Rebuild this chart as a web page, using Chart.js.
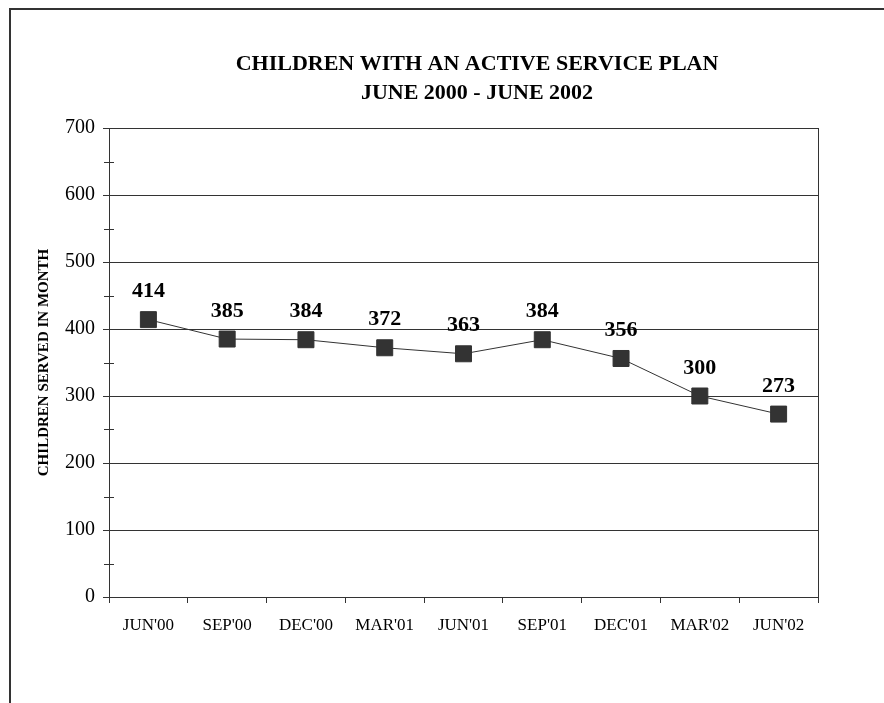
<!DOCTYPE html>
<html>
<head>
<meta charset="utf-8">
<script src="https://cdn.jsdelivr.net/npm/chart.js@4/dist/chart.umd.min.js"></script>
<style>
  html, body { margin: 0; padding: 0; background: #fff; }
  #wrap { position: relative; width: 884px; height: 703px; }
  #frame { position: absolute; left: 9px; top: 8px; width: 880px; height: 700px;
           border-left: 2px solid #333; border-top: 2px solid #333; box-sizing: border-box; }
  canvas { position: absolute; left: 0; top: 0; }
</style>
</head>
<body>
<div id="wrap">
  <div id="frame"></div>
  <canvas id="c" width="884" height="703"></canvas>
</div>
<script>
const categories = ["JUN'00", "SEP'00", "DEC'00", "MAR'01", "JUN'01", "SEP'01", "DEC'01", "MAR'02", "JUN'02"];
const childrenServed = [414, 385, 384, 372, 363, 384, 356, 300, 273];
const titleLines = ["CHILDREN WITH AN ACTIVE SERVICE PLAN", "JUNE 2000 - JUNE 2002"];
const yAxisTitle = "CHILDREN SERVED IN MONTH";
const yMin = 0, yMax = 700, yStep = 100;

const SERIF = "'Liberation Serif', 'Times New Roman', serif";
const DARK = '#333333';

const extras = {
  id: 'extras',
  afterDraw(chart) {
    const ctx = chart.ctx;
    ctx.save();
    ctx.fillStyle = '#000';
    ctx.font = "bold 22px " + SERIF;
    ctx.textAlign = 'center';
    ctx.textBaseline = 'middle';
    const cx = 477;
    titleLines.forEach((t, i) => ctx.fillText(t, cx, 64 + i * 29));
    ctx.restore();
  },
  afterDatasetsDraw(chart) {
    const ctx = chart.ctx;
    const area = chart.chartArea;
    const ys = chart.scales.y;
    ctx.save();
    // right border of plot area
    ctx.strokeStyle = DARK;
    ctx.lineWidth = 1;
    ctx.beginPath();
    ctx.moveTo(Math.round(area.right) + 0.5, area.top);
    ctx.lineTo(Math.round(area.right) + 0.5, area.bottom);
    ctx.stroke();
    // minor ticks on y axis
    for (let v = yMin + yStep / 2; v < yMax; v += yStep) {
      const py = Math.round(ys.getPixelForValue(v)) + 0.5;
      ctx.beginPath();
      ctx.moveTo(area.left - 5, py);
      ctx.lineTo(area.left + 5, py);
      ctx.stroke();
    }
    // data labels
    const meta = chart.getDatasetMeta(0);
    ctx.fillStyle = '#000';
    ctx.font = "bold 22px " + SERIF;
    ctx.textAlign = 'center';
    ctx.textBaseline = 'middle';
    meta.data.forEach((pt, i) => {
      ctx.fillText(String(childrenServed[i]), pt.x, pt.y - 28);
    });
    ctx.restore();
  }
};

new Chart(document.getElementById('c'), {
  type: 'line',
  data: {
    labels: categories,
    datasets: [{
      data: childrenServed,
      borderColor: DARK,
      borderWidth: 1,
      pointStyle: 'rect',
      pointRadius: 11.3,
      pointHoverRadius: 11.3,
      pointBackgroundColor: DARK,
      pointBorderColor: DARK,
      pointBorderWidth: 1,
      tension: 0
    }]
  },
  options: {
    responsive: false,
    animation: false,
    events: [],
    layout: { padding: { left: 0, right: 66, top: 128, bottom: 0 } },
    plugins: {
      legend: { display: false },
      tooltip: { enabled: false },
      title: { display: false }
    },
    scales: {
      x: {
        type: 'category',
        offset: true,
        grid: { display: true, offset: true, drawOnChartArea: false, drawTicks: true, tickLength: 6, color: DARK },
        border: { display: true, color: DARK, width: 1 },
        ticks: { color: '#000', font: { family: SERIF, size: 17 }, padding: 12, maxRotation: 0, autoSkip: false },
        afterFit(scale) { scale.height = 106; }
      },
      y: {
        min: yMin, max: yMax,
        ticks: { stepSize: yStep, color: '#000', font: { family: SERIF, size: 20 }, padding: 8 },
        grid: { color: DARK, lineWidth: 1, tickLength: 6, drawTicks: true },
        border: { display: true, color: DARK, width: 1 },
        title: {
          display: true,
          text: yAxisTitle,
          color: '#000',
          font: { family: SERIF, size: 15, weight: 'bold' },
          padding: { top: 35, bottom: 0 }
        },
        afterFit(scale) { scale.width = 109; }
      }
    }
  },
  plugins: [extras]
});
</script>
</body>
</html>
